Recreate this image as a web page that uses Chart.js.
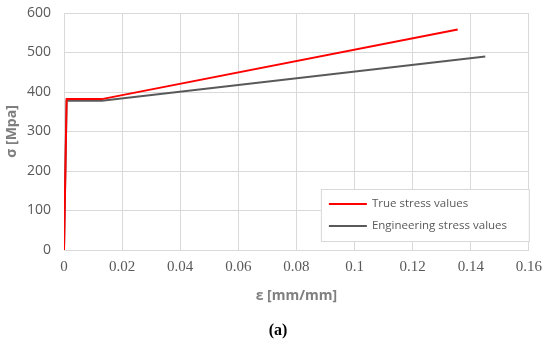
<!DOCTYPE html>
<html>
<head>
<meta charset="utf-8">
<script src="https://cdn.jsdelivr.net/npm/chart.js@4"></script>
<style>
    body { margin: 0; background: #fff; }
    #wrap { position: relative; width: 550px; height: 345px; }
    #caption {
        position: absolute; left: 0; width: 556px; top: 321px;
        text-align: center; font: bold 16px "Liberation Serif", serif; color: #000;
    }
</style>
</head>
<body>
<div id="wrap">
    <canvas id="chart" width="550" height="345"></canvas>
    <div id="caption">(a)</div>
</div>
<script>
// ── stress-strain curves ──────────────────────────────────────────────
const strainTrue = [0, 0.0009, 0.013, 0.1355];
const stressTrue = [0, 382, 382, 558];

const strainEng = [0, 0.0009, 0.013, 0.145];
const stressEng = [0, 378, 378, 490];

const xTicks = [0, 0.02, 0.04, 0.06, 0.08, 0.1, 0.12, 0.14, 0.16];
const yTicks = [0, 100, 200, 300, 400, 500, 600];

function toPoints(xs, ys) {
    return xs.map((x, i) => ({ x: x, y: ys[i] }));
}

// legend box drawn inside the plot, bottom right
const insideLegend = {
    id: 'insideLegend',
    afterDraw(chart) {
        const ctx = chart.ctx;
        const area = chart.chartArea;
        const w = 208, h = 52;
        const x0 = area.right - w;
        const y0 = area.bottom - h - 9;

        ctx.save();
        ctx.fillStyle = '#fff';
        ctx.strokeStyle = '#d9d9d9';
        ctx.lineWidth = 1;
        ctx.fillRect(x0, y0, w, h);
        ctx.strokeRect(x0 + 0.5, y0 + 0.5, w, h);

        ctx.font = '11.5px "Open Sans", sans-serif';
        ctx.textBaseline = 'middle';
        chart.data.datasets.forEach((ds, i) => {
            const yy = y0 + 15 + i * 22;
            ctx.strokeStyle = ds.borderColor;
            ctx.lineWidth = 2;
            ctx.beginPath();
            ctx.moveTo(x0 + 8, yy);
            ctx.lineTo(x0 + 46, yy);
            ctx.stroke();
            ctx.fillStyle = '#595959';
            ctx.fillText(ds.label, x0 + 51, yy);
        });
        ctx.restore();
    }
};

new Chart(document.getElementById('chart'), {
    type: 'scatter',
    data: {
        datasets: [{
            label: 'True stress values',
            data: toPoints(strainTrue, stressTrue),
            showLine: true,
            borderColor: '#ff0000',
            borderWidth: 2,
            pointRadius: 0,
            tension: 0
        }, {
            label: 'Engineering stress values',
            data: toPoints(strainEng, stressEng),
            showLine: true,
            borderColor: '#595959',
            borderWidth: 2,
            pointRadius: 0,
            tension: 0
        }]
    },
    options: {
        responsive: false,
        animation: false,
        layout: { padding: { left: 2, right: 10, top: 13, bottom: 39 } },
        plugins: {
            legend: { display: false },
            tooltip: { enabled: false }
        },
        scales: {
            x: {
                type: 'linear',
                min: 0,
                max: 0.16,
                afterBuildTicks: axis => { axis.ticks = xTicks.map(v => ({ value: v })); },
                afterFit: axis => { axis.height = 56; },
                grid: { color: '#d9d9d9', drawTicks: false },
                border: { color: '#d9d9d9' },
                ticks: {
                    padding: 8,
                    color: '#595959',
                    font: { family: '"Liberation Serif", serif', size: 15 },
                    callback: v => String(v)
                },
                title: {
                    display: true,
                    text: 'ε [mm/mm]',
                    color: '#7f7f7f',
                    font: { family: '"Open Sans", sans-serif', size: 14, weight: 'bold' },
                    padding: { top: 6, bottom: 2 }
                }
            },
            y: {
                min: 0,
                max: 600,
                afterBuildTicks: axis => { axis.ticks = yTicks.map(v => ({ value: v })); },
                afterFit: axis => {
                    axis.width = 62;
                    axis.paddingTop = 0;
                    axis.paddingBottom = 0;
                },
                grid: { color: '#d9d9d9', drawTicks: false },
                border: { color: '#d9d9d9' },
                ticks: {
                    padding: 13,
                    color: '#595959',
                    font: { family: '"Open Sans", sans-serif', size: 14 }
                },
                title: {
                    display: true,
                    text: 'σ [Mpa]',
                    color: '#7f7f7f',
                    font: { family: '"Open Sans", sans-serif', size: 14, weight: 'bold' },
                    padding: { top: 2, bottom: 4 }
                }
            }
        }
    },
    plugins: [insideLegend]
});
</script>
</body>
</html>
